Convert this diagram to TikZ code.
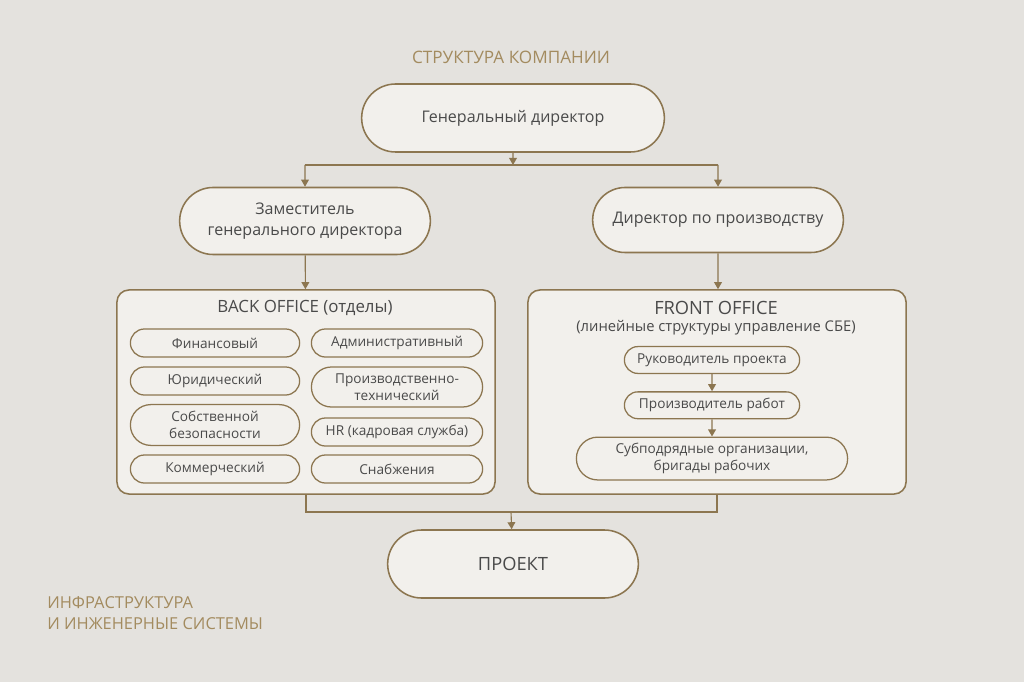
\documentclass[tikz,border=0pt]{standalone}
\usepackage{fontspec}
\setmainfont{Open Sans}
\usepackage{tikz}
\usetikzlibrary{shapes.misc, arrows.meta, positioning}

\definecolor{bgcol}{HTML}{E4E2DE}
\definecolor{boxfill}{HTML}{F2F0EC}
\definecolor{linecol}{HTML}{8C7650}
\definecolor{txtcol}{HTML}{4A4A4A}
\definecolor{goldtxt}{HTML}{A38B5F}

\begin{document}
\begin{tikzpicture}[
    x=0.025cm, y=-0.025cm,
    node distance=0.43cm,
    pill/.style={rounded rectangle, draw=linecol, fill=boxfill, line width=1.1pt, align=center, text=txtcol, font=\fontsize{11.4}{14.5}\selectfont},
    dept/.style={rounded rectangle, draw=linecol, fill=boxfill, line width=0.9pt, align=center, text=txtcol, font=\fontsize{9.7}{12}\selectfont, inner sep=1pt},
    office/.style={rectangle, rounded corners=0.3cm, draw=linecol, fill=boxfill, line width=1.1pt, minimum width=9.45cm, minimum height=5.1cm},
    link/.style={draw=linecol, line width=0.8pt},
    arrow/.style={link, -{Triangle[width=5.5pt,length=5pt]}}
]
    % background
    \fill[bgcol] (0,0) rectangle (1024,682);
    \useasboundingbox (0,0) rectangle (1024,682);

    % headings
    \node[text=goldtxt, font=\fontsize{12.2}{14}\selectfont] (title) at (511,57) {СТРУКТУРА КОМПАНИИ};
    \node[text=goldtxt, font=\fontsize{11.7}{15.5}\selectfont, align=left, anchor=north west, inner sep=0pt] (infra) at (47,596) {ИНФРАСТРУКТУРА\\И ИНЖЕНЕРНЫЕ СИСТЕМЫ};

    % top levels
    \node[pill, minimum width=7.8cm, minimum height=1.7cm] (gen) at (513,118) {Генеральный директор};
    \node[pill, minimum width=6.5cm, minimum height=1.675cm] (dep) at (305,221) {Заместитель\\генерального директора};
    \node[pill, minimum width=6.5cm, minimum height=1.625cm] (prod) at (718,220) {Директор по производству};

    % back office
    \node[office] (back) at (306,392) {};
    \node[text=txtcol, font=\fontsize{12}{14}\selectfont] (backtitle) at (305,308) {BACK OFFICE (отделы)};
    \node[dept, minimum width=4.3cm, minimum height=0.7cm] (fin) at (215,343) {Финансовый};
    \node[dept, minimum width=4.35cm, minimum height=0.7cm] (adm) at (397,343) {Административный};
    \node[dept, minimum width=4.3cm, minimum height=0.7cm] (law) at (215,381) {Юридический};
    \node[dept, minimum width=4.35cm, minimum height=1.0cm] (tech) at (397,387) {Производственно-\\технический};
    \node[dept, minimum width=4.3cm, minimum height=1.02cm] (sec) at (215,425) {Собственной\\безопасности};
    \node[dept, minimum width=4.35cm, minimum height=0.7cm] (hr) at (397,432) {HR (кадровая служба)};
    \node[dept, minimum width=4.3cm, minimum height=0.7cm] (com) at (215,469) {Коммерческий};
    \node[dept, minimum width=4.35cm, minimum height=0.7cm] (supply) at (397,469) {Снабжения};

    % front office
    \node[office] (front) at (717,392) {};
    \node[text=txtcol, font=\fontsize{13}{15}\selectfont] (fronttitle) at (716,308) {FRONT OFFICE};
    \node[text=txtcol, font=\fontsize{10.5}{12}\selectfont, below=-1pt of fronttitle, inner sep=1pt] (frontsub) {(линейные структуры управление СБЕ)};
    \node[dept, minimum width=4.45cm, minimum height=0.67cm] (head) at (712,360) {Руководитель проекта};
    \node[dept, minimum width=4.45cm, minimum height=0.67cm, below=of head] (works) {Производитель работ};
    \node[dept, minimum width=6.85cm, minimum height=1.07cm, below=of works] (sub) {Субподрядные организации,\\бригады рабочих};

    % project
    \node[pill, minimum width=6.5cm, minimum height=1.7cm, font=\fontsize{13}{15}\selectfont] (proj) at (513,564) {ПРОЕКТ};

    % connectors
    \coordinate (split) at (513,165);
    \coordinate (join) at (511,512);
    \draw[arrow] (gen) -- (split);
    \draw[link] (split -| dep) -- (split -| prod);
    \draw[arrow] (split -| dep) -- (dep);
    \draw[arrow] (split -| prod) -- (prod);
    \draw[arrow] (dep) -- (back);
    \draw[arrow] (prod) -- (prod |- back.north);
    \draw[arrow] (head) -- (works);
    \draw[arrow] (works) -- (sub);
    \draw[link] (back.south) -- (back.south |- join) -- (front.south |- join) -- (front.south);
    \draw[arrow] (join) -- (proj);
\end{tikzpicture}
\end{document}
